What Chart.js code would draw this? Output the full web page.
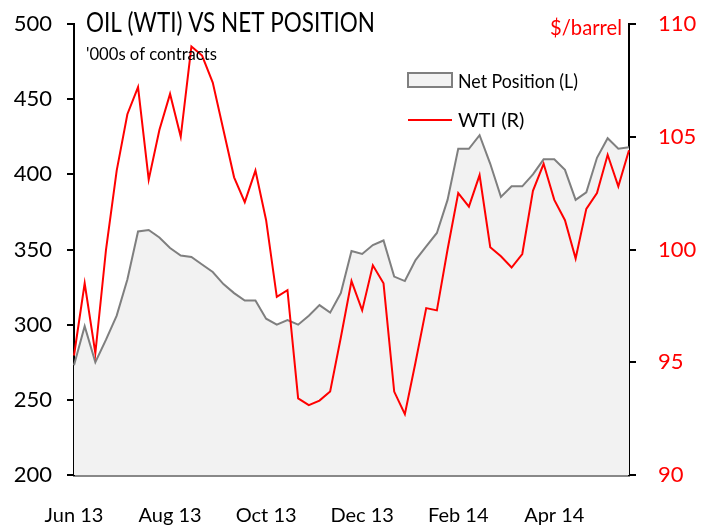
<!DOCTYPE html>
<html>
<head>
<meta charset="utf-8">
<script src="https://cdn.jsdelivr.net/npm/chart.js@4"></script>
<style>
	html, body { margin: 0; padding: 0; background: #fff; }
</style>
</head>
<body>
<canvas id="oilCanvas" width="712" height="529"></canvas>
<script>
// weekly COT dates (Tuesdays)
const weeks = [
	"2013-06-04", "2013-06-11", "2013-06-18", "2013-06-25", "2013-07-02", "2013-07-09",
	"2013-07-16", "2013-07-23", "2013-07-30", "2013-08-06", "2013-08-13", "2013-08-20",
	"2013-08-27", "2013-09-03", "2013-09-10", "2013-09-17", "2013-09-24", "2013-10-01",
	"2013-10-08", "2013-10-15", "2013-10-22", "2013-10-29", "2013-11-05", "2013-11-12",
	"2013-11-19", "2013-11-26", "2013-12-03", "2013-12-10", "2013-12-17", "2013-12-24",
	"2013-12-31", "2014-01-07", "2014-01-14", "2014-01-21", "2014-01-28", "2014-02-04",
	"2014-02-11", "2014-02-18", "2014-02-25", "2014-03-04", "2014-03-11", "2014-03-18",
	"2014-03-25", "2014-04-01", "2014-04-08", "2014-04-15", "2014-04-22", "2014-04-29",
	"2014-05-06", "2014-05-13", "2014-05-20", "2014-05-27", "2014-06-03",
];
const tickLabels = ["Jun 13", "Aug 13", "Oct 13", "Dec 13", "Feb 14", "Apr 14"];
const tickEvery = 9;

// Net position, '000s of contracts (left axis)
const netPosition = [
	273, 299, 275, 290, 306, 330, 362, 363, 358, 351, 346, 345,
	340, 335, 327, 321, 316, 316, 304, 300, 303, 300, 306, 313,
	308, 321, 349, 347, 353, 356, 332, 329, 343, 352, 361, 383,
	417, 417, 426, 407, 385, 392, 392, 400, 410, 410, 403, 383,
	388, 411, 424, 417, 418,
];
// WTI, $/barrel (right axis)
const wti = [
	95.3, 98.5, 95.4, 100.0, 103.5, 106.0, 107.2, 103.1, 105.3, 106.9, 105.0, 109.0,
	108.6, 107.4, 105.3, 103.2, 102.1, 103.5, 101.3, 97.9, 98.2, 93.4, 93.1, 93.3,
	93.7, 96.1, 98.6, 97.3, 99.3, 98.5, 93.7, 92.7, 95.0, 97.4, 97.3, 100.0,
	102.5, 101.9, 103.3, 100.1, 99.7, 99.2, 99.8, 102.6, 103.8, 102.2, 101.3, 99.6,
	101.8, 102.5, 104.2, 102.8, 104.4,
];

const FONT = "Lato, 'Open Sans', sans-serif";
const RED = "#ff0000";
const GREY_LINE = "#7f7f7f";
const GREY_FILL = "#f2f2f2";

const headerPlugin = {
	id: "header",
	afterDraw(chart) {
		const ctx = chart.ctx;
		ctx.save();
		ctx.textBaseline = "alphabetic";
		ctx.textAlign = "left";
		ctx.fillStyle = "#000";
		ctx.font = `27px ${FONT}`;
		ctx.fillText("OIL (WTI) VS NET POSITION", 86, 32, 289);
		ctx.font = `17px ${FONT}`;
		ctx.fillText("'000s of contracts", 86, 60, 131);

		ctx.fillStyle = RED;
		ctx.textAlign = "right";
		ctx.font = `22px ${FONT}`;
		ctx.fillText("$/barrel", 622, 35, 72);

		// legend
		ctx.fillStyle = GREY_FILL;
		ctx.strokeStyle = GREY_LINE;
		ctx.lineWidth = 2;
		ctx.fillRect(408, 73, 44, 14);
		ctx.strokeRect(408, 73, 44, 14);
		ctx.strokeStyle = RED;
		ctx.beginPath();
		ctx.moveTo(408, 120);
		ctx.lineTo(452, 120);
		ctx.stroke();

		ctx.fillStyle = "#000";
		ctx.textAlign = "left";
		ctx.font = `20px ${FONT}`;
		ctx.fillText("Net Position (L)", 458, 88, 120);
		ctx.fillText("WTI (R)", 458, 127);
		ctx.restore();
	},
};

// keep tick label padding from pushing the plot area around
function fitVertical(width) {
	return (scale) => {
		scale.width = width;
		scale.paddingTop = 0;
		scale.paddingBottom = 0;
	};
}

function createOilChart(canvasId) {
	const ctx = document.getElementById(canvasId).getContext("2d");
	new Chart(ctx, {
		type: "line",
		data: {
			labels: weeks,
			datasets: [
				{
					label: "Net Position (L)",
					data: netPosition,
					yAxisID: "yLeft",
					order: 1,
					borderColor: GREY_LINE,
					backgroundColor: GREY_FILL,
					borderWidth: 2,
					fill: "start",
					pointRadius: 0,
					tension: 0,
				},
				{
					label: "WTI (R)",
					data: wti,
					yAxisID: "yRight",
					order: 0,
					borderColor: RED,
					borderWidth: 2,
					fill: false,
					pointRadius: 0,
					tension: 0,
				},
			],
		},
		options: {
			responsive: false,
			animation: false,
			layout: {
				padding: { top: 24, left: 0, right: 0, bottom: 0 },
			},
			plugins: {
				legend: { display: false },
				tooltip: { enabled: false },
			},
			scales: {
				x: {
					type: "category",
					offset: false,
					grid: { display: false },
					border: { color: "#888888", width: 3 },
					ticks: {
						autoSkip: false,
						maxRotation: 0,
						padding: 21,
						color: "#000",
						font: { family: FONT, size: 20 },
						callback: (val, i) => (i % tickEvery === 0 ? tickLabels[i / tickEvery] : ""),
					},
					afterFit: (scale) => {
						scale.height = 54;
						scale.paddingLeft = 0;
						scale.paddingRight = 0;
					},
				},
				yLeft: {
					position: "left",
					min: 200,
					max: 500,
					ticks: {
						stepSize: 50,
						padding: 15,
						color: "#000",
						font: { family: FONT, size: 22 },
					},
					grid: {
						drawOnChartArea: false,
						tickLength: 7,
						color: "#000",
						lineWidth: 2,
					},
					border: { color: "#000", width: 2 },
					afterFit: fitVertical(74),
				},
				yRight: {
					position: "right",
					min: 90,
					max: 110,
					ticks: {
						stepSize: 5,
						padding: 22,
						color: RED,
						font: { family: FONT, size: 22 },
					},
					grid: {
						drawOnChartArea: false,
						tickLength: 7,
						color: "#000",
						lineWidth: 2,
					},
					border: { color: "#000", width: 2 },
					afterFit: fitVertical(83),
				},
			},
		},
		plugins: [headerPlugin],
	});
}

createOilChart("oilCanvas");
</script>
</body>
</html>
